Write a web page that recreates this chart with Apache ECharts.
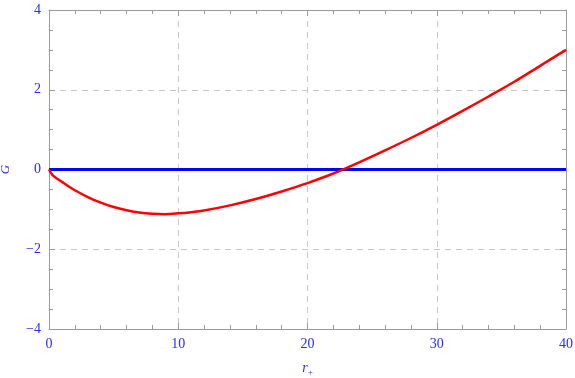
<!DOCTYPE html>
<html>
<head>
<meta charset="utf-8">
<script src="https://cdn.jsdelivr.net/npm/echarts@6/dist/echarts.min.js"></script>
<style>
    html, body { margin: 0; padding: 0; background: #fff; }
    #chart { width: 575px; height: 378px; }
</style>
</head>
<body>
<div id="chart"></div>
<script>
    // r+ values and G
    var rValues = [0, 0.25, 0.5, 1, 1.5, 2, 3, 4, 5, 6, 7, 8, 9, 10, 11, 12, 14, 16, 18, 20, 22, 24, 26, 28, 30, 32, 34, 36, 38, 40];
    var gValues = [0, -0.13, -0.2, -0.31, -0.42, -0.52, -0.69, -0.83, -0.94, -1.02, -1.08, -1.11, -1.12, -1.1, -1.07, -1.03, -0.9, -0.74, -0.55, -0.34, -0.1, 0.18, 0.48, 0.79, 1.12, 1.47, 1.83, 2.2, 2.6, 3.0];
    // blue reference line G = 0
    var zeroR = [0, 40];
    var zeroG = [0, 0];

    var frame = '#9a9a9a';
    var labelBlue = '#2a2aff';
    var fontFam = '"Liberation Serif", "DejaVu Serif", serif';

    function minus(v) {
        return String(v).replace('-', '\u2212');
    }

    var chart = echarts.init(document.getElementById('chart'));

    var tickStyle = {
        show: true, inside: true, length: 6,
        lineStyle: {color: frame}
    };
    var minorStyle = {
        show: true, splitNumber: 5, length: 4,
        lineStyle: {color: frame}
    };

    var option = {
        animation: false,
        grid: {left: 49, top: 10, right: 9, bottom: 49, containLabel: false, outerBoundsMode: 'none'},
        xAxis: [
            {
                type: 'value', min: 0, max: 40, interval: 10,
                axisLine: {show: true, onZero: false, lineStyle: {color: frame, width: 1}},
                axisTick: tickStyle,
                minorTick: minorStyle,
                axisLabel: {color: labelBlue, fontFamily: fontFam, fontSize: 14, margin: 8},
                splitLine: {show: true, lineStyle: {color: '#c8c8c8', type: [6, 5]}},
                name: '{i|r}{s|+}',
                nameLocation: 'middle',
                nameGap: 31,
                nameTextStyle: {
                    rich: {
                        i: {color: labelBlue, fontFamily: fontFam, fontStyle: 'italic', fontSize: 14},
                        s: {color: labelBlue, fontFamily: fontFam, fontSize: 9, padding: [8, 0, 0, 0]}
                    }
                }
            },
            {
                type: 'value', min: 0, max: 40, interval: 10, position: 'top',
                axisLine: {show: true, onZero: false, lineStyle: {color: frame, width: 1}},
                axisTick: tickStyle,
                minorTick: minorStyle,
                axisLabel: {show: false},
                splitLine: {show: false}
            }
        ],
        yAxis: [
            {
                type: 'value', min: -4, max: 4, interval: 2,
                axisLine: {show: true, onZero: false, lineStyle: {color: frame, width: 1}},
                axisTick: tickStyle,
                minorTick: {show: true, splitNumber: 4, length: 4, lineStyle: {color: frame}},
                axisLabel: {
                    color: labelBlue, fontFamily: fontFam, fontSize: 14, margin: 8,
                    formatter: minus
                },
                splitLine: {show: true, lineStyle: {color: '#c8c8c8', type: [6, 5]}},
                name: 'G',
                nameLocation: 'middle',
                nameGap: 37,
                nameTextStyle: {color: labelBlue, fontFamily: fontFam, fontStyle: 'italic', fontSize: 13}
            },
            {
                type: 'value', min: -4, max: 4, interval: 2, position: 'right',
                axisLine: {show: true, onZero: false, lineStyle: {color: frame, width: 1}},
                axisTick: tickStyle,
                minorTick: {show: true, splitNumber: 4, length: 4, lineStyle: {color: frame}},
                axisLabel: {show: false},
                splitLine: {show: false}
            }
        ],
        series: [
            {
                name: 'zero',
                type: 'line',
                data: zeroR.map(function (r, i) { return [r, zeroG[i]]; }),
                showSymbol: false,
                lineStyle: {color: '#0000ff', width: 3},
                z: 3
            },
            {
                name: 'G',
                type: 'line',
                data: rValues.map(function (r, i) { return [r, gValues[i]]; }),
                showSymbol: false,
                smooth: 0.3,
                lineStyle: {color: '#ff0000', width: 2.5},
                z: 4
            }
        ]
    };

    chart.setOption(option);
</script>
</body>
</html>
